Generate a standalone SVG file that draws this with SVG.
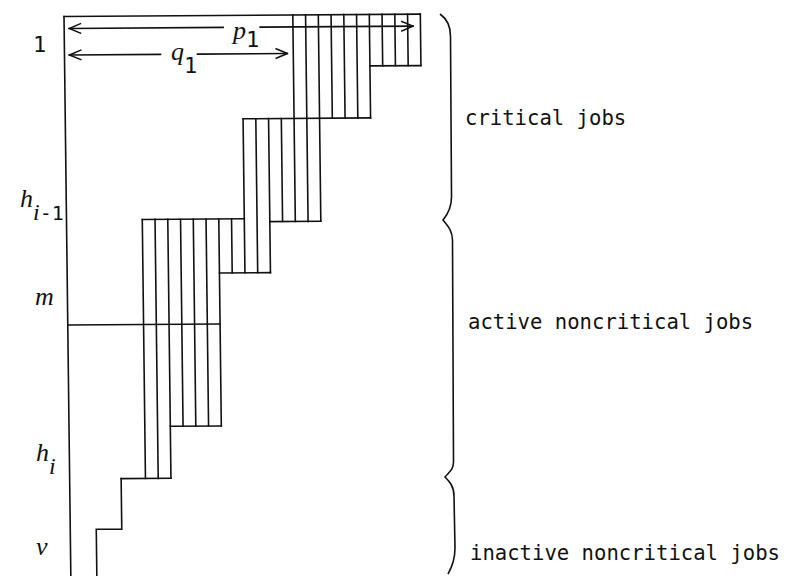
<svg xmlns="http://www.w3.org/2000/svg" width="787" height="576" viewBox="0 0 787 576">
  <style>
    .ln { fill: none; stroke: #111; stroke-width: 1.6; stroke-linecap: square; }
    .br { fill: none; stroke: #111; stroke-width: 1.6; }
    .mono { font-family: "DejaVu Sans Mono", "Liberation Mono", monospace; fill: #111; }
    .math { font-family: "Liberation Serif", "DejaVu Serif", serif; font-style: italic; fill: #111; }
    .cat { font-family: "DejaVu Sans Mono", "Liberation Mono", monospace; font-size: 20.6px; fill: #111; }
  </style>
  <defs>
    <marker id="arr" viewBox="0 0 14 12" refX="13" refY="6" markerWidth="14" markerHeight="12" markerUnits="userSpaceOnUse" orient="auto-start-reverse">
      <path d="M1,1 L13,6 L1,11" fill="none" stroke="#111" stroke-width="1.5"/>
    </marker>
  </defs>
  <rect width="787" height="576" fill="#fff"/>
  <g id="chart" transform="matrix(1 -0.0068 0.0122 1 -0.195 0.435)">
    <g id="axis">
      <path class="ln" d="M64,16.5 V580"/>
    </g>
    <g id="jobs">
      <path class="ln" d="M139.8,220 V479 M152.55,220 V479 M165.3,220 V479
        M178.05,220 V427 M190.8,220 V427 M203.55,220 V427 M216.3,220 V427
        M229.05,220 V274 M241.8,120 V274 M254.55,120 V274 M267.3,120 V274
        M280.05,120 V223 M292.8,16.5 V223 M305.55,16.5 V223 M318.3,16.5 V223
        M331.05,16.5 V120 M343.8,16.5 V120 M356.55,16.5 V120 M369.3,16.5 V120
        M382.05,16.5 V68 M394.8,16.5 V68 M407.55,16.5 V68 M420.3,16.5 V68"/>
      <path class="ln" d="M64,16.5 H420.3 M369.3,68 H420.3 M241.8,120 H369.3
        M139.8,220 H241.8 M267.3,223 H318.3 M216.3,274 H267.3
        M64,325 H216.3 M165.3,427 H216.3 M115.5,479 H165.3"/>
      <path class="ln" d="M115.5,479 V529.5 H90 V580"/>
    </g>
    <g id="connectors">
      <path class="ln" d="M69,28.5 H223" marker-start="url(#arr)"/>
      <path class="ln" d="M260,28.5 H413" marker-end="url(#arr)"/>
      <path class="ln" d="M69,55 H160" marker-start="url(#arr)"/>
      <path class="ln" d="M197,55 H287" marker-end="url(#arr)"/>
    </g>
  </g>
  <g id="dim-labels">
    <text class="math" x="233" y="39" font-size="26">p</text>
    <text class="mono" x="246" y="47" font-size="22">1</text>
    <text class="math" x="171" y="60" font-size="26">q</text>
    <text class="mono" x="184" y="73" font-size="22">1</text>
  </g>
  <g id="row-labels">
    <text class="mono" x="33" y="52" font-size="22">1</text>
    <text x="20" y="207" class="math" font-size="26">h</text>
    <text x="33" y="220"><tspan class="math" font-size="24">i</tspan><tspan class="mono" font-size="20">-1</tspan></text>
    <text class="math" x="35" y="305" font-size="26">m</text>
    <text class="math" x="36" y="461" font-size="26">h</text>
    <text class="math" x="49" y="474" font-size="24">i</text>
    <text class="math" x="36" y="555" font-size="26">v</text>
  </g>
  <g id="braces">
    <path class="br" d="M440,14 C447,19 450.5,26 450.5,36 L451.5,195 C452,207 448,214 443,220 C448,226 452.5,231 452.5,240 L453.5,462 C453.5,470 449,472 445,477 C449,481 454,486 454,496 L455,548 C455,560 452,567 448,574"/>
  </g>
  <g id="categories">
    <text class="cat" x="465" y="125">critical jobs</text>
    <text class="cat" x="468" y="329">active noncritical jobs</text>
    <text class="cat" x="470" y="560">inactive noncritical jobs</text>
  </g>
</svg>
